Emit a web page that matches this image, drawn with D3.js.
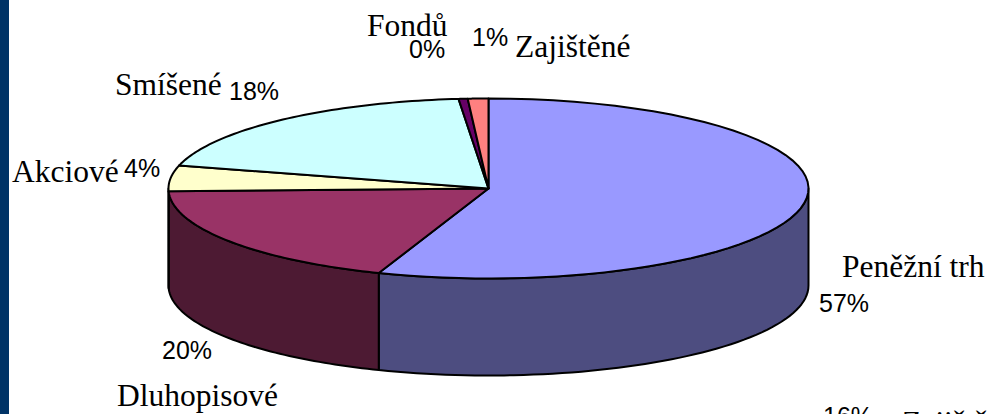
<!DOCTYPE html>
<html>
<head>
<meta charset="utf-8">
<script src="https://cdn.jsdelivr.net/npm/d3@7"></script>
<style>
html, body { margin: 0; padding: 0; background: #fff; overflow: hidden; }
svg { display: block; }
</style>
</head>
<body>
<script>
// values, the printed labels are these rounded
var categories = ["Peněžní trh", "Dluhopisové", "Akciové", "Smíšené", "Fondů", "Zajištěné"];
var shares = [56.5, 20.4, 4.49, 17.5, 0.4, 0.9];
var topColors = ["#9999ff", "#993366", "#ffffcc", "#ccffff", "#660066", "#ff8080"];
var sideColors = ["#4d4d80", "#4d1a33", "#808066", "#668080", "#330033", "#804040"];

// label anchors, same order as categories
var nameAnchors = [[842, 277], [117, 406], [12, 182], [115, 95], [367, 36], [515, 57]];
var percentAnchors = [[819, 312], [162, 359], [124, 177], [229, 100], [409, 58], [472, 46]];

var w = 991;
var h = 414;
var cx = 488.5;
var cy = 188.5;
var rx = 320;
var ry = 90;
var depth = 97;
var tilt = 0.14; // perspective shift, the front of the pie is drawn bigger

var svg = d3.select("body")
    .append("svg")
    .attr("width", w)
    .attr("height", h);

svg.append("rect")
    .attr("width", 9)
    .attr("height", h)
    .attr("fill", "#003366");

var pie = d3.pie().sort(null);
var arcs = pie(shares);

// angle clockwise from 12 o'clock -> point on the tilted disc
function project(a) {
    var x = Math.sin(a);
    var y = -Math.cos(a);
    var d = 1 + tilt * y;
    return [
        cx + rx * x * Math.sqrt(1 - tilt * tilt) / d,
        cy + ry * (y + tilt) / d
    ];
}

var line = d3.line();

function rim(a0, a1) {
    return d3.range(0, 61).map(function(i) {
        return project(a0 + (a1 - a0) * i / 60);
    });
}

// only the part of the rim between these angles faces the viewer
var frontStart = Math.acos(tilt);
var frontEnd = 2 * Math.PI - Math.acos(tilt);

arcs.forEach(function(d, i) {
    var a0 = Math.max(d.startAngle, frontStart);
    var a1 = Math.min(d.endAngle, frontEnd);
    if (a1 <= a0) return;
    var upper = rim(a0, a1);
    var lower = upper.map(function(p) { return [p[0], p[1] + depth]; }).reverse();
    svg.append("path")
        .attr("d", line(upper.concat(lower)) + "Z")
        .attr("fill", sideColors[i])
        .attr("stroke", "#000")
        .attr("stroke-width", 2)
        .attr("stroke-linejoin", "round");
});

svg.selectAll("path.top")
    .data(arcs)
    .enter()
    .append("path")
    .attr("class", "top")
    .attr("d", function(d) {
        return line([[cx, cy]].concat(rim(d.startAngle, d.endAngle))) + "Z";
    })
    .attr("fill", function(d, i) { return topColors[i]; })
    .attr("stroke", "#000")
    .attr("stroke-width", 2)
    .attr("stroke-linejoin", "round");

// category names
svg.selectAll("text.name")
    .data(categories)
    .enter()
    .append("text")
    .attr("class", "name")
    .attr("x", function(d, i) { return nameAnchors[i][0]; })
    .attr("y", function(d, i) { return nameAnchors[i][1]; })
    .attr("font-family", "'Liberation Serif', serif")
    .attr("font-size", 31.5)
    .attr("fill", "#000")
    .text(function(d) { return d; });

// percent labels
svg.selectAll("text.pct")
    .data(shares)
    .enter()
    .append("text")
    .attr("class", "pct")
    .attr("x", function(d, i) { return percentAnchors[i][0]; })
    .attr("y", function(d, i) { return percentAnchors[i][1]; })
    .attr("font-family", "'Liberation Sans', sans-serif")
    .attr("font-size", 25)
    .attr("fill", "#000")
    .text(function(d) { return Math.round(d) + "%"; });

// top of the next slide's chart, cut off by the picture edge
svg.append("text")
    .attr("x", 823)
    .attr("y", 425)
    .attr("font-family", "'Liberation Sans', sans-serif")
    .attr("font-size", 25)
    .text("16%");
svg.append("text")
    .attr("x", 902)
    .attr("y", 433)
    .attr("font-family", "'Liberation Serif', serif")
    .attr("font-size", 31.5)
    .text("Zajištěné");
</script>
</body>
</html>
